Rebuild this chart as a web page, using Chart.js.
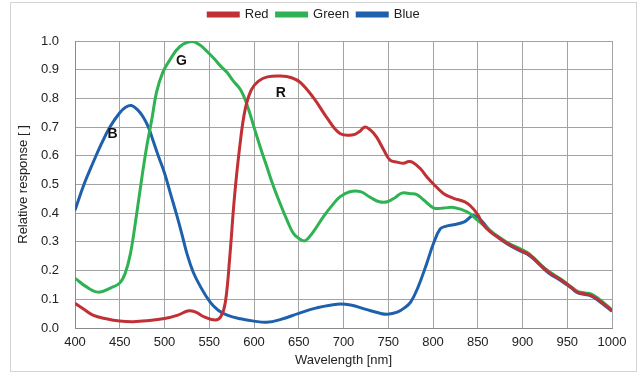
<!DOCTYPE html>
<html>
<head>
<meta charset="utf-8">
<script src="https://cdn.jsdelivr.net/npm/chart.js@4/dist/chart.umd.min.js"></script>
<style>
  html, body { margin: 0; padding: 0; background: #fff; }
  #wrap { position: relative; width: 642px; height: 376px; }
  #frame { position: absolute; left: 10px; top: 2px; width: 627px; height: 370px; border: 1px solid #d4d4d4; box-sizing: border-box; pointer-events: none; }
  canvas { display: block; }
</style>
</head>
<body>
<div id="wrap">
  <canvas id="c" width="642" height="376"></canvas>
  <div id="frame"></div>
</div>
<script>
// ---- data ----
const redNm  = [400,410,420,435,450,465,480,500,515,527,535,545,557,563,568,573,578,584,590,597,605,615,630,642,652,667,681,696,711,718,724,730,737,745,752,760,767,773,778,786,793,801,812,823,835,842,850,856,864,870,883,898,905,912,920,930,943,955,962,970,977,985,1000];
const redVal = [0.086,0.065,0.045,0.032,0.024,0.022,0.025,0.033,0.045,0.06,0.055,0.038,0.028,0.04,0.09,0.25,0.45,0.63,0.76,0.83,0.86,0.875,0.878,0.872,0.855,0.80,0.735,0.678,0.673,0.685,0.70,0.69,0.665,0.62,0.585,0.578,0.574,0.58,0.576,0.555,0.527,0.50,0.468,0.452,0.44,0.425,0.395,0.36,0.335,0.322,0.295,0.27,0.26,0.244,0.22,0.193,0.168,0.14,0.124,0.119,0.113,0.098,0.06];

const greenNm  = [400,412,426,440,450,456,462,469,475,480,486,491,498,506,517,530,540,547,555,562,570,577,585,592,600,607,614,621,629,637,644,651,657,665,678,688,696,707,719,730,740,749,758,765,775,782,790,801,812,823,838,849,856,864,870,883,898,905,912,920,930,943,955,962,970,977,985,1000];
const greenVal = [0.174,0.145,0.125,0.14,0.157,0.19,0.26,0.40,0.53,0.63,0.73,0.82,0.89,0.934,0.98,0.998,0.985,0.965,0.94,0.915,0.89,0.86,0.83,0.78,0.70,0.63,0.565,0.50,0.435,0.375,0.33,0.31,0.304,0.33,0.39,0.43,0.457,0.475,0.475,0.455,0.44,0.44,0.455,0.47,0.468,0.465,0.445,0.418,0.418,0.42,0.405,0.378,0.36,0.34,0.325,0.298,0.275,0.264,0.246,0.222,0.196,0.17,0.142,0.127,0.122,0.118,0.102,0.063];

const blueNm  = [400,410,420,430,439,450,457,463,470,476,482,487,493,500,507,514,520,525,532,540,551,560,570,585,600,614,630,650,670,693,708,725,740,749,760,768,775,783,793,800,808,815,823,835,845,852,858,864,870,883,898,905,912,920,930,943,955,962,970,977,985,1000];
const blueVal = [0.41,0.50,0.575,0.645,0.70,0.75,0.77,0.775,0.76,0.736,0.70,0.655,0.60,0.54,0.465,0.39,0.32,0.26,0.195,0.145,0.09,0.062,0.045,0.032,0.024,0.02,0.03,0.051,0.07,0.083,0.08,0.065,0.052,0.048,0.055,0.07,0.09,0.14,0.225,0.29,0.345,0.355,0.36,0.37,0.392,0.38,0.36,0.338,0.322,0.293,0.268,0.258,0.242,0.218,0.19,0.165,0.138,0.122,0.117,0.111,0.095,0.058];

const seriesNames = ['Red', 'Green', 'Blue'];
const xTicks = [400,450,500,550,600,650,700,750,800,850,900,950,1000];
const yTicks = [0,0.1,0.2,0.3,0.4,0.5,0.6,0.7,0.8,0.9,1.0];
const curveLabels = [
  { text: 'B', nm: 442, val: 0.676 },
  { text: 'G', nm: 519, val: 0.93 },
  { text: 'R', nm: 630, val: 0.82 }
];

const colors = ['rgb(192,48,52)', 'rgb(46,178,82)', 'rgb(30,96,172)'];
const pts = (xs, ys) => xs.map((x, i) => ({ x: x, y: ys[i] }));

const legendSpacer = {
  id: 'legendSpacer',
  beforeInit(chart) {
    const orig = chart.legend.fit;
    chart.legend.fit = function () { orig.bind(chart.legend)(); this.height += 10; };
  }
};

const curveText = {
  id: 'curveText',
  afterDatasetsDraw(chart) {
    const { ctx, scales } = chart;
    ctx.save();
    ctx.font = 'bold 14px "Liberation Sans", Arial, sans-serif';
    ctx.fillStyle = '#111';
    ctx.textAlign = 'center';
    ctx.textBaseline = 'middle';
    curveLabels.forEach(l => {
      ctx.fillText(l.text, scales.x.getPixelForValue(l.nm), scales.y.getPixelForValue(l.val));
    });
    ctx.restore();
  }
};

const font = { family: '"Liberation Sans", Arial, sans-serif', size: 13 };

new Chart(document.getElementById('c'), {
  type: 'line',
  data: {
    datasets: [
      { label: seriesNames[0], data: pts(redNm, redVal), borderColor: colors[0], backgroundColor: colors[0] },
      { label: seriesNames[1], data: pts(greenNm, greenVal), borderColor: colors[1], backgroundColor: colors[1] },
      { label: seriesNames[2], data: pts(blueNm, blueVal), borderColor: colors[2], backgroundColor: colors[2] }
    ]
  },
  options: {
    responsive: false,
    animation: false,
    devicePixelRatio: 1,
    layout: { padding: { top: 0, right: 30, left: 16, bottom: 0 } },
    elements: {
      point: { radius: 0 },
      line: { borderWidth: 3, tension: 0.4, cubicInterpolationMode: 'default' }
    },
    plugins: {
      legend: {
        position: 'top',
        align: 'center',
        labels: {
          boxWidth: 30, boxHeight: 3, padding: 8,
          color: '#222', font: font
        }
      },
      tooltip: { enabled: false }
    },
    scales: {
      x: {
        type: 'linear', min: 400, max: 1000,
        afterBuildTicks(s) { s.ticks = xTicks.map(v => ({ value: v })); },
        afterFit(s) { s.height = 48; },
        ticks: { color: '#222', font: font, padding: 7, maxRotation: 0, callback: v => String(v) },
        grid: { color: '#a3a3a3', lineWidth: 1, drawTicks: false },
        border: { color: '#8a8a8a', width: 1 },
        title: { display: true, text: 'Wavelength [nm]', color: '#222', font: font, padding: { top: 2, bottom: 8 } }
      },
      y: {
        min: 0, max: 1.0,
        afterBuildTicks(s) { s.ticks = yTicks.map(v => ({ value: v })); },
        afterFit(s) { s.width = 59; },
        ticks: { color: '#222', font: font, padding: 16, callback: v => v.toFixed(1) },
        grid: { color: '#a3a3a3', lineWidth: 1, drawTicks: false },
        border: { color: '#8a8a8a', width: 1 },
        title: { display: true, text: 'Relative response [ ]', color: '#222', font: font, padding: { top: 0, bottom: 2 } }
      }
    }
  },
  plugins: [legendSpacer, curveText]
});
</script>
</body>
</html>
